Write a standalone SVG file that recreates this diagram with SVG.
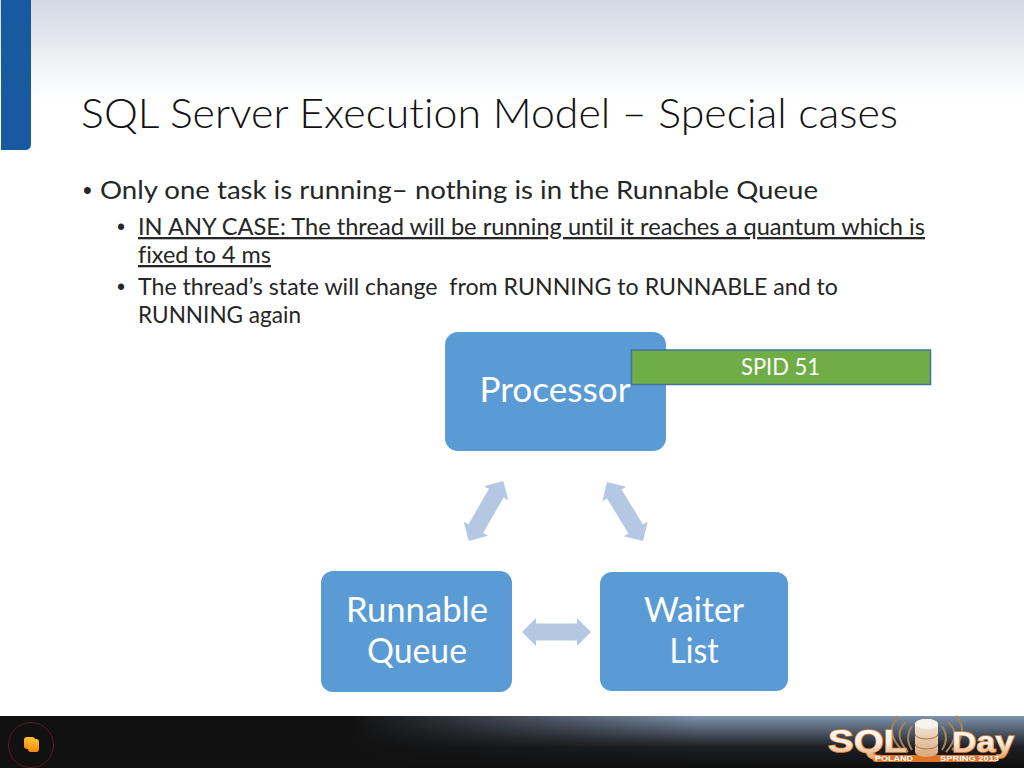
<svg xmlns="http://www.w3.org/2000/svg" width="1024" height="768" viewBox="0 0 1024 768">
<defs>
<linearGradient id="top" x1="0" y1="0" x2="0" y2="1"><stop offset="0" stop-color="#d3d9e3"/><stop offset="1" stop-color="#ffffff"/></linearGradient>
<linearGradient id="foot" x1="0" y1="0" x2="0" y2="1"><stop offset="0" stop-color="#7f93ad"/><stop offset="0.6" stop-color="#1c1f24"/><stop offset="1" stop-color="#0e0e0e"/></linearGradient>
<linearGradient id="footL" x1="0" y1="0" x2="1" y2="0"><stop offset="0" stop-color="#111"/><stop offset="0.5" stop-color="#111"/><stop offset="1" stop-color="#111" stop-opacity="0"/></linearGradient>
<linearGradient id="cube" x1="0" y1="0" x2="0" y2="1"><stop offset="0" stop-color="#ffc230"/><stop offset="1" stop-color="#f58a10"/></linearGradient>
<linearGradient id="can" x1="0" y1="0" x2="0" y2="1"><stop offset="0" stop-color="#f6f1e8"/><stop offset="1" stop-color="#d9a77a"/></linearGradient>
<linearGradient id="logo" x1="0" y1="0" x2="0" y2="1"><stop offset="0" stop-color="#ffffff"/><stop offset="0.55" stop-color="#f5ece0"/><stop offset="1" stop-color="#ee9f60"/></linearGradient>
<path id="dbl" d="M-34.500 0L-20.500 -14V-8.500H20.500V-14L34.500 0L20.500 14V8.500H-20.500V14Z"/>
</defs>
<style>
text{font-family:Lato,"Noto Sans",sans-serif;font-variant-ligatures:none}
.title{font-size:41px;font-weight:300;fill:#111}
.b1{font-size:25px;fill:#262626}
.b2{font-size:23px;fill:#262626}
.dot{font-family:"Liberation Sans",sans-serif}
.node{fill:#5b9bd5}
.nt{font-size:35px;fill:#fff;text-anchor:middle}
.arrow{fill:#b4c8e4}
.ring{fill:none;stroke:#a3845a;stroke-width:2}
.lg{font-family:"Liberation Sans",sans-serif;font-weight:700;fill:url(#logo);stroke:#e0883e;stroke-width:1.500;paint-order:stroke}
.lp{font-family:"Liberation Sans",sans-serif;font-weight:700;font-size:8px;fill:#fff}
</style>
<rect id="top-band" width="1024" height="100" fill="url(#top)"/>
<path id="side-bar" d="M1 0H31V144Q31 150 25 150H1Z" fill="#175a9f"/>
<text class="title" x="81" y="128" textLength="817" lengthAdjust="spacingAndGlyphs">SQL Server Execution Model – Special cases</text>
<g id="bullets">
<text class="b1 dot" x="83" y="199">•</text>
<text class="b1" x="100" y="199" textLength="718" lengthAdjust="spacingAndGlyphs">Only one task is running– nothing is in the Runnable Queue</text>
<text class="b2 dot" x="117" y="235">•</text>
<text class="b2" x="138" y="235" textLength="787" lengthAdjust="spacingAndGlyphs" text-decoration="underline">IN ANY CASE: The thread will be running until it reaches a quantum which is</text>
<text class="b2" x="138" y="263" textLength="133" lengthAdjust="spacingAndGlyphs" text-decoration="underline">fixed to 4 ms</text>
<text class="b2 dot" x="117" y="295">•</text>
<text class="b2" x="138" y="295" xml:space="preserve" textLength="700" lengthAdjust="spacingAndGlyphs">The thread’s state will change  from RUNNING to RUNNABLE and to</text>
<text class="b2" x="138" y="323" textLength="163" lengthAdjust="spacingAndGlyphs">RUNNING again</text>
</g>
<g id="connectors">
<use href="#dbl" class="arrow" transform="translate(486 511) rotate(-60)"/>
<use href="#dbl" class="arrow" transform="translate(625 511.500) rotate(58.600)"/>
<use href="#dbl" class="arrow" transform="translate(556.500 632)"/>
</g>
<g id="node-processor"><rect class="node" x="445" y="332" width="221" height="119" rx="13"/><text class="nt" x="555" y="402" textLength="151" lengthAdjust="spacingAndGlyphs">Processor</text></g>
<g id="node-runnable"><rect class="node" x="321" y="571" width="191" height="121" rx="12"/><text class="nt" x="417" y="622" textLength="142" lengthAdjust="spacingAndGlyphs">Runnable</text><text class="nt" x="417" y="663" textLength="100" lengthAdjust="spacingAndGlyphs">Queue</text></g>
<g id="node-waiter"><rect class="node" x="600" y="572" width="188" height="119" rx="12"/><text class="nt" x="694" y="622" textLength="100" lengthAdjust="spacingAndGlyphs">Waiter</text><text class="nt" x="694" y="663" textLength="49" lengthAdjust="spacingAndGlyphs">List</text></g>
<g id="node-spid"><rect x="631.500" y="350" width="299" height="34.500" fill="#70ad47" stroke="#41719c" stroke-width="1.500"/><text x="780.500" y="375" font-size="24" fill="#fff" text-anchor="middle" textLength="79" lengthAdjust="spacingAndGlyphs">SPID 51</text></g>
<g id="footer">
<rect y="716" width="1024" height="52" fill="url(#foot)"/>
<rect y="716" width="700" height="52" fill="url(#footL)"/>
<circle cx="31" cy="745" r="22.500" fill="none" stroke="#5c1a26" stroke-width="1"/>
<rect x="24" y="737" width="11" height="12" rx="3" fill="url(#cube)"/>
<rect x="28" y="739" width="11" height="13" rx="3" fill="url(#cube)"/>
</g>
<g id="logo-mark">
<path class="ring" d="M902 750Q884 732 898 716M908 752Q892 734 906 722M912 750Q904 738 912 726M952 750Q970 732 956 716M946 752Q962 734 948 722M942 750Q950 738 942 726"/>
<path d="M866 750H872L877 755H1000L996 762H874Z" fill="#dd7428"/>
<text class="lg" x="828" y="752" font-size="31" textLength="79" lengthAdjust="spacingAndGlyphs">SQL</text>
<text class="lg" x="952" y="752" font-size="30" textLength="62" lengthAdjust="spacingAndGlyphs">Day</text>
<text class="lp" x="875" y="761" textLength="38" lengthAdjust="spacingAndGlyphs">POLAND</text>
<text class="lp" x="940" y="761" textLength="59" lengthAdjust="spacingAndGlyphs">SPRING 2013</text>
<path d="M915 724A11.500 5 0 0 1 938 724V752A11.500 5 0 0 1 915 752Z" fill="url(#can)"/>
<ellipse cx="926.500" cy="724" rx="11.500" ry="5" fill="#f7f4ee"/>
<path d="M915 734A11.500 5 0 0 0 938 734M915 744A11.500 5 0 0 0 938 744" fill="none" stroke="#a5753f" stroke-width="1"/>
</g>
</svg>
